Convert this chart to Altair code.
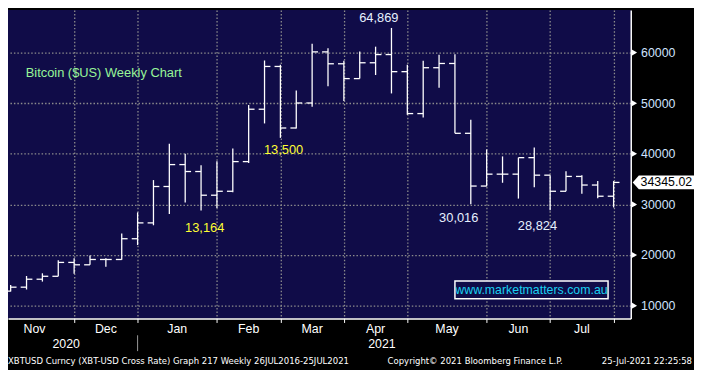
import altair as alt
import pandas as pd

# ---------------- data ----------------
weeks = list(range(39))
opens = [12870, 13650, 15220, 15800, 18540, 18070, 19120, 19120, 23220, 26350,
         33540, 37870, 36500, 31820, 32600, 38460, 48810, 57260, 45100, 50040,
         60140, 57790, 54860, 57990, 59610, 56230, 47950, 57010, 57850, 44050,
         33630, 35980, 35980, 39240, 35780, 32600, 35530, 33830, 31620]
highs = [14100, 15860, 16390, 18990, 19380, 19900, 19380, 24260, 28420, 34810,
         41970, 40020, 37740, 38520, 41060, 49650, 58440, 57600, 52520, 61760,
         60840, 58380, 60200, 61170, 64869, 57600, 58380, 59550, 59670, 46720,
         40860, 39490, 39240, 41250, 35780, 36560, 35780, 34610, 34610]
lows = [12800, 13190, 14750, 15800, 16310, 18070, 17680, 19050, 21980, 25880,
        28110, 30370, 28810, 29280, 32400, 38190, 46000, 43150, 45020, 49320,
        53360, 50430, 54860, 55570, 51930, 47700, 47170, 53030, 44040, 30016,
        33580, 34280, 31150, 33380, 28824, 32600, 32130, 31230, 29400]
closes = [13650, 15220, 15800, 18540, 18070, 19120, 19120, 23220, 26350, 33540,
          37870, 36500, 31820, 32600, 38460, 48810, 57260, 45100, 50040, 60140,
          57790, 54860, 57990, 59610, 56230, 47950, 57010, 57850, 44050, 33630,
          35980, 35980, 39240, 35780, 32600, 35530, 33830, 31620, 34345.02]

months = ["Nov", "Dec", "Jan", "Feb", "Mar", "Apr", "May", "Jun", "Jul"]
month_start_weeks = [-1, 4, 8, 13, 17, 21, 25, 30, 34, 38]
years = ["2020", "2021"]
year_weeks = [3.5, 23.4]
year_break_week = 8

y_ticks = [10000, 15000, 20000, 25000, 30000, 35000, 40000, 45000, 50000,
           55000, 60000, 65000]
y_major = [10000, 20000, 30000, 40000, 50000, 60000]

last_price = 34345.02

ann_text = ["64,869", "13,500", "13,164", "30,016", "28,824"]
ann_week = [23.2, 17.2, 12.23, 28.24, 33.2]
ann_value = [66900, 40670, 25240, 27390, 25820]
ann_color = ["#e6f0ff", "#ffff33", "#ffff33", "#e6f0ff", "#e6f0ff"]

title_text = "Bitcoin ($US) Weekly Chart"
title_week, title_value = 0.95, 55900

wm_text = "www.marketmatters.com.au"
wm_week = [28.0, 37.65]
wm_value = [11370, 14885]

footer_left = "XBTUSD Curncy (XBT-USD Cross Rate) Graph 217  Weekly 26JUL2016-25JUL2021"
footer_mid = "Copyright\u00a9 2021 Bloomberg Finance L.P."
footer_right = "25-Jul-2021 22:25:58"

# ---------------- layout ----------------
W, H = 630, 312
NAVY = "#100c48"
GRID = "#8c8c8c"
LBL = "#cfe3ff"
FONT = "Liberation Sans"

df = pd.DataFrame({"week": weeks, "open": opens, "high": highs,
                   "low": lows, "close": closes})

xscale = alt.Scale(domain=[-0.168, 39.08], nice=False, zero=False)
yscale = alt.Scale(domain=[7461, 68398], nice=False, zero=False)

grid_weeks = month_start_weeks[1:]
is_major = "datum.value % 10000 == 0"

x_main = alt.X("week:Q", scale=xscale, title=None,
               axis=alt.Axis(values=grid_weeks, labels=False, grid=True,
                             gridColor=GRID, gridDash=[1.5, 2], gridWidth=1.3,
                             tickColor="white", tickSize=4, domainColor="white",
                             domainWidth=1.5, title=None))
y_main = alt.Y("low:Q", scale=yscale, title=None,
               axis=alt.Axis(orient="right", values=y_ticks, title=None,
                             labelExpr=f"{is_major} ? format(datum.value, 'd') : ''",
                             labelColor=LBL, labelFont=FONT, labelFontSize=12.5,
                             labelPadding=6, tickColor="white", tickSize=4,
                             domainColor="white", domainWidth=1.5,
                             grid=True, gridColor=GRID, gridDash=[1.5, 2],
                             gridWidth=1.3,
                             gridOpacity={"condition": {"test": is_major, "value": 1},
                                          "value": 0}))

base = alt.Chart(df)
hl = base.mark_rule(color="white", strokeWidth=1.3).encode(
    x=x_main, y=y_main, y2="high:Q")
op = base.transform_calculate(xo="datum.week - 0.37").mark_rule(
    color="white", strokeWidth=1.3).encode(
    x=alt.X("xo:Q", scale=xscale, title=None), x2="week:Q",
    y=alt.Y("open:Q", scale=yscale, title=None))
cl = base.transform_calculate(xc="datum.week + 0.37").mark_rule(
    color="white", strokeWidth=1.3).encode(
    x=alt.X("week:Q", scale=xscale, title=None), x2="xc:Q",
    y=alt.Y("close:Q", scale=yscale, title=None))

# annotations
ann_df = pd.DataFrame({"t": ann_text, "w": ann_week, "v": ann_value, "c": ann_color})
ann = alt.Chart(ann_df).mark_text(font=FONT, fontSize=13, baseline="middle").encode(
    x=alt.X("w:Q", scale=xscale, title=None),
    y=alt.Y("v:Q", scale=yscale, title=None),
    text="t:N", color=alt.Color("c:N", scale=None))

title_df = pd.DataFrame({"t": [title_text], "w": [title_week], "v": [title_value]})
ttl = alt.Chart(title_df).mark_text(font=FONT, fontSize=13, align="left",
                                     baseline="middle", color="#98f598").encode(
    x=alt.X("w:Q", scale=xscale, title=None),
    y=alt.Y("v:Q", scale=yscale, title=None), text="t:N")

wm_df = pd.DataFrame({"w1": [wm_week[0]], "w2": [wm_week[1]],
                      "v1": [wm_value[0]], "v2": [wm_value[1]],
                      "wc": [(wm_week[0] + wm_week[1]) / 2],
                      "vc": [(wm_value[0] + wm_value[1]) / 2], "t": [wm_text]})
wm_box = alt.Chart(wm_df).mark_rect(fill=NAVY, stroke="white", strokeWidth=1.5).encode(
    x=alt.X("w1:Q", scale=xscale, title=None), x2="w2:Q",
    y=alt.Y("v1:Q", scale=yscale, title=None), y2="v2:Q")
wm_txt = alt.Chart(wm_df).mark_text(font=FONT, fontSize=12.5, color="#1ad0f0",
                                     baseline="middle").encode(
    x=alt.X("wc:Q", scale=xscale, title=None),
    y=alt.Y("vc:Q", scale=yscale, title=None), text="t:N")

# y major tick triangles
tri_df = pd.DataFrame({"v": y_major})
tri = alt.Chart(tri_df).mark_point(shape="triangle-right", filled=True, color="white",
                                    size=45, opacity=1, clip=False).encode(
    x=alt.value(W + 3.5), y=alt.Y("v:Q", scale=yscale, title=None))

# last price box
px_df = pd.DataFrame({"v": [last_price], "t": [f"{last_price:.2f}"]})
px_box = alt.Chart(px_df).mark_point(
    shape="M-1,0L-0.8,-0.226L1,-0.226L1,0.226L-0.8,0.226Z", filled=True,
    color="white", size=3844, opacity=1, clip=False).encode(
    x=alt.value(W + 33), y=alt.Y("v:Q", scale=yscale, title=None))
px_txt = alt.Chart(px_df).mark_text(font=FONT, fontSize=12.5, align="left",
                                     baseline="middle", color="black").encode(
    x=alt.value(W + 10), y=alt.Y("v:Q", scale=yscale, title=None), text="t:N")

# month / year labels
mids = [(a + b) / 2 for a, b in zip(month_start_weeks[:-1], month_start_weeks[1:])]
mon_df = pd.DataFrame({"m": months, "w": mids})
mon = alt.Chart(mon_df).mark_text(font=FONT, fontSize=12.5, color="white",
                                   baseline="middle").encode(
    x=alt.X("w:Q", scale=xscale, title=None), y=alt.value(H + 11), text="m:N")
yr_df = pd.DataFrame({"y": years, "w": year_weeks})
yr = alt.Chart(yr_df).mark_text(font=FONT, fontSize=12.5, color="white",
                                 baseline="middle").encode(
    x=alt.X("w:Q", scale=xscale, title=None), y=alt.value(H + 26), text="y:N")
sep = alt.Chart(pd.DataFrame({"w": [year_break_week]})).mark_rule(
    color="#9a9a9a", strokeWidth=1).encode(
    x=alt.X("w:Q", scale=xscale, title=None), y=alt.value(H + 17), y2=alt.value(H + 33))

# footer
FOOT = 8.6
foot_df = pd.DataFrame({"t": [footer_left]})
f1 = alt.Chart(foot_df).mark_text(font="DejaVu Sans", fontSize=FOOT, color="white",
                                   align="left", baseline="middle").encode(
    x=alt.value(0), y=alt.value(H + 43), text="t:N")
f2 = alt.Chart(pd.DataFrame({"t": [footer_mid]})).mark_text(
    font="DejaVu Sans", fontSize=FOOT, color="white", align="left",
    baseline="middle").encode(x=alt.value(384), y=alt.value(H + 43), text="t:N")
f3 = alt.Chart(pd.DataFrame({"t": [footer_right]})).mark_text(
    font="DejaVu Sans", fontSize=FOOT, color="white", align="right",
    baseline="middle").encode(x=alt.value(692), y=alt.value(H + 43), text="t:N")

chart = alt.layer(hl, op, cl, ttl, ann, wm_box, wm_txt, tri, px_box, px_txt,
                  mon, yr, sep, f1, f2, f3).properties(
    width=W, height=H, background="black",
    padding={"left": 0, "top": 0, "right": 64, "bottom": 50},
    autosize=alt.AutoSizeParams(type="none"),
).configure_view(fill=NAVY, strokeWidth=0)

chart.save("out.html", embed_options={"renderer": "svg", "actions": False})
